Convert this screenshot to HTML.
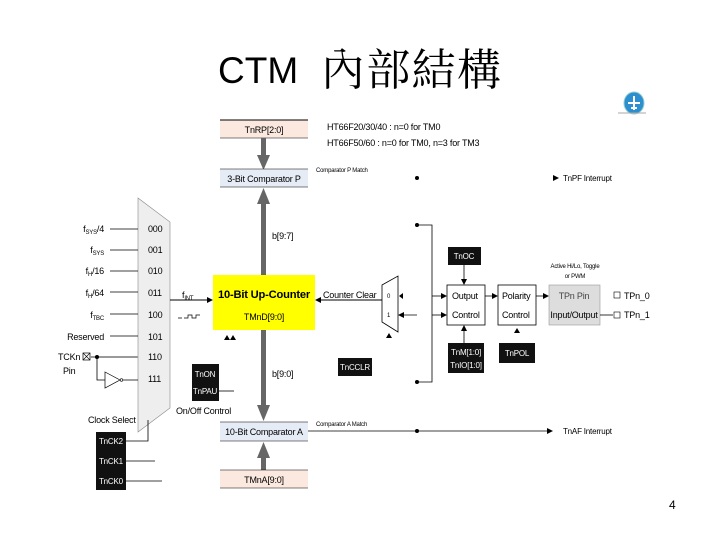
<!DOCTYPE html>
<html><head><meta charset="utf-8"><style>
body{margin:0;background:#fff;width:720px;height:540px;overflow:hidden}
svg{display:block}
text{font-family:"Liberation Sans",sans-serif;letter-spacing:-0.2px}
</style></head><body>
<svg width="720" height="540" viewBox="0 0 720 540">
<defs>
<marker id="a" markerWidth="6" markerHeight="6" refX="5" refY="3" orient="auto" markerUnits="userSpaceOnUse"><path d="M0,0L6,3L0,6z" fill="#000"/></marker>
</defs>
<text x="218" y="83" font-size="37" style="letter-spacing:0">CTM</text>
<text x="321" y="85" font-size="44" style="font-family:'Noto Serif CJK TC','Noto Serif CJK SC',serif;letter-spacing:0" textLength="180">內部結構</text>
<!-- logo -->
<ellipse cx="634" cy="103" rx="10" ry="11" fill="#2b8fd0" stroke="#9cc" stroke-width="1"/>
<path d="M634 96v14M628 103h12M631 108h6" stroke="#fff" stroke-width="2"/>
<line x1="618" y1="113" x2="646" y2="113" stroke="#aaa" stroke-width="1"/>

<!-- TnRP -->
<rect x="220" y="120" width="88" height="18" fill="#fbe9df"/>
<line x1="220" y1="120" x2="308" y2="120" stroke="#000"/><line x1="220" y1="138" x2="308" y2="138" stroke="#000" stroke-width=".5"/>
<text x="264" y="133" font-size="9" text-anchor="middle">TnRP[2:0]</text>
<text x="327" y="130" font-size="9">HT66F20/30/40 : n=0 for TM0</text>
<text x="327" y="146" font-size="9">HT66F50/60 : n=0 for TM0,  n=3 for TM3</text>
<rect x="261" y="138" width="5" height="20" fill="#666"/><path d="M257,155L270,155L263.5,170z" fill="#666"/>
<rect x="220" y="169" width="88" height="18" fill="#e6ecf6"/>
<line x1="220" y1="169" x2="308" y2="169" stroke="#000" stroke-width=".6"/><line x1="220" y1="187" x2="308" y2="187" stroke="#000" stroke-width=".6"/>
<text x="264" y="182" font-size="9" text-anchor="middle">3-Bit Comparator P</text>
<text x="316" y="172" font-size="6">Comparator P Match</text>
<circle cx="417" cy="178" r="2"/>
<path d="M553,175L559,178L553,181z"/><text x="563" y="181" font-size="8">TnPF Interrupt</text>
<rect x="261" y="201" width="5" height="75" fill="#666"/><path d="M257,204L270,204L263.5,188z" fill="#666"/>
<text x="272" y="239" font-size="9">b[9:7]</text>

<!-- mux -->
<path d="M138,198L170,222L170,408L138,432z" fill="#eee" stroke="#888" stroke-width=".6"/>
<g font-size="9">
<text x="148" y="232">000</text><text x="148" y="253">001</text><text x="148" y="274">010</text><text x="148" y="296">011</text>
<text x="148" y="318">100</text><text x="148" y="340">101</text><text x="148" y="360">110</text><text x="148" y="382">111</text>
<g text-anchor="end">
<text x="104" y="232">f<tspan font-size="6" dy="2">SYS</tspan><tspan dy="-2">/4</tspan></text>
<text x="104" y="253">f<tspan font-size="6" dy="2">SYS</tspan></text>
<text x="104" y="274">f<tspan font-size="6" dy="2">H</tspan><tspan dy="-2">/16</tspan></text>
<text x="104" y="296">f<tspan font-size="6" dy="2">H</tspan><tspan dy="-2">/64</tspan></text>
<text x="104" y="318">f<tspan font-size="6" dy="2">TBC</tspan></text>
<text x="104" y="340">Reserved</text>
</g>
<text x="58" y="360">TCKn</text><text x="63" y="374">Pin</text>
<text x="88" y="423">Clock Select</text>
</g>
<g stroke="#000" stroke-width=".8">
<line x1="110" y1="229" x2="138" y2="229"/><line x1="110" y1="250" x2="138" y2="250"/><line x1="110" y1="271" x2="138" y2="271"/>
<line x1="110" y1="292" x2="138" y2="292"/><line x1="110" y1="314" x2="138" y2="314"/><line x1="110" y1="336" x2="138" y2="336"/>
</g>
<rect x="83" y="353" width="7" height="7" fill="none" stroke="#000" stroke-width=".7"/><path d="M83,353l7,7M90,353l-7,7" stroke="#000" stroke-width=".6"/>
<line x1="90" y1="357" x2="138" y2="357" stroke="#999" stroke-width="2"/>
<circle cx="97" cy="357" r="2"/>
<path d="M97,357V380H105M122,380H138" stroke="#000" fill="none" stroke-width=".8"/>
<path d="M105,372L120,380L105,388z" fill="#fff" stroke="#000" stroke-width=".7"/><circle cx="121.5" cy="380" r="1.3" fill="#fff" stroke="#000" stroke-width=".6"/>

<!-- clock select boxes -->
<rect x="96" y="432" width="30" height="58" fill="#111"/>
<g fill="#fff" font-size="8"><text x="99" y="444">TnCK2</text><text x="99" y="464">TnCK1</text><text x="99" y="484">TnCK0</text></g>
<path d="M126,441H148V420" stroke="#000" fill="none" stroke-width=".8"/>
<line x1="126" y1="461" x2="155" y2="461" stroke="#000" stroke-width=".8"/>
<line x1="126" y1="481" x2="162" y2="481" stroke="#000" stroke-width=".8"/>

<!-- counter -->
<text x="182" y="298" font-size="9">f<tspan font-size="6" dy="2">INT</tspan></text>
<line x1="170" y1="300" x2="212" y2="300" stroke="#000" stroke-width=".9" marker-end="url(#a)"/>
<path d="M178,318h4M184,318h4v-3h4v3h4v-3h4" stroke="#000" fill="none" stroke-width=".7"/>
<rect x="213" y="275" width="102" height="55" fill="#ffff00"/>
<text x="264" y="298" font-size="11" font-weight="bold" text-anchor="middle" textLength="92" lengthAdjust="spacingAndGlyphs">10-Bit Up-Counter</text>
<text x="264" y="320" font-size="9" text-anchor="middle">TMnD[9:0]</text>
<path d="M224,340l3,-5l3,5zM230,340l3,-5l3,5z"/>
<line x1="382" y1="300" x2="316" y2="300" stroke="#000" stroke-width=".9" marker-end="url(#a)"/>
<text x="323" y="298" font-size="9">Counter Clear</text>
<path d="M382,285L398,276L398,332L382,322z" fill="#fff" stroke="#000" stroke-width=".8"/>
<text x="387" y="298" font-size="6">0</text><text x="387" y="317" font-size="6">1</text>
<path d="M403,293L399,296L403,299z"/>
<line x1="417" y1="315" x2="399" y2="315" stroke="#000" stroke-width=".8" marker-end="url(#a)"/>
<path d="M386,338l3,-5l3,5z"/>

<!-- right lines -->
<circle cx="417" cy="225" r="2"/><circle cx="417" cy="382" r="2"/><circle cx="417" cy="431" r="2"/>
<path d="M417,225H432V382H417" stroke="#000" fill="none" stroke-width=".8"/>
<line x1="432" y1="296" x2="446" y2="296" stroke="#000" stroke-width=".8" marker-end="url(#a)"/>
<line x1="432" y1="315" x2="446" y2="315" stroke="#000" stroke-width=".8" marker-end="url(#a)"/>
<rect x="448" y="247" width="33" height="18" fill="#111"/><text x="464" y="259" font-size="8" fill="#fff" text-anchor="middle">TnOC</text>
<line x1="464" y1="265" x2="464" y2="284" stroke="#000" stroke-width=".8" marker-end="url(#a)"/>
<rect x="447" y="285" width="38" height="40" fill="#fff" stroke="#000" stroke-width=".8"/>
<text x="452" y="299" font-size="9">Output</text><text x="452" y="318" font-size="9">Control</text>
<line x1="464" y1="343" x2="464" y2="326" stroke="#000" stroke-width=".8" marker-end="url(#a)"/>
<line x1="485" y1="296" x2="497" y2="296" stroke="#000" stroke-width=".8" marker-end="url(#a)"/>
<rect x="498" y="285" width="38" height="40" fill="#fff" stroke="#000" stroke-width=".8"/>
<text x="502" y="299" font-size="9">Polarity</text><text x="502" y="318" font-size="9">Control</text>
<path d="M514,333l3,-5l3,5z"/>
<line x1="536" y1="296" x2="548" y2="296" stroke="#000" stroke-width=".8" marker-end="url(#a)"/>
<rect x="549" y="285" width="51" height="40" fill="#ddd" stroke="#999" stroke-width=".6"/>
<text x="574" y="299" font-size="9" fill="#444" text-anchor="middle">TPn Pin</text><text x="574" y="318" font-size="9" text-anchor="middle">Input/Output</text>
<text x="575" y="268" font-size="6" text-anchor="middle">Active Hi/Lo, Toggle</text><text x="575" y="278" font-size="6" text-anchor="middle">or PWM</text>
<line x1="600" y1="315" x2="613" y2="315" stroke="#000" stroke-width=".8"/>
<g font-size="9"><rect x="614" y="292" width="6" height="6" fill="none" stroke="#000" stroke-width=".6"/><text x="624" y="299">TPn_0</text>
<rect x="614" y="312" width="6" height="6" fill="none" stroke="#000" stroke-width=".6"/><text x="624" y="318">TPn_1</text></g>
<rect x="448" y="343" width="36" height="30" fill="#111"/><text x="466" y="355" font-size="8" fill="#fff" text-anchor="middle">TnM[1:0]</text><text x="466" y="368" font-size="8" fill="#fff" text-anchor="middle">TnIO[1:0]</text>
<rect x="499" y="343" width="36" height="20" fill="#111"/><text x="517" y="356" font-size="8" fill="#fff" text-anchor="middle">TnPOL</text>
<rect x="338" y="358" width="34" height="18" fill="#111"/><text x="355" y="370" font-size="8" fill="#fff" text-anchor="middle">TnCCLR</text>

<!-- on/off -->
<rect x="192" y="364" width="27" height="37" fill="#111"/><text x="205" y="377" font-size="8" fill="#fff" text-anchor="middle">TnON</text><text x="205" y="394" font-size="8" fill="#fff" text-anchor="middle">TnPAU</text>
<line x1="219" y1="391" x2="234" y2="391" stroke="#000" stroke-width=".8"/>
<text x="176" y="414" font-size="9">On/Off Control</text>

<!-- lower -->
<text x="272" y="377" font-size="9">b[9:0]</text>
<rect x="261" y="330" width="5" height="77" fill="#666"/><path d="M257,405L270,405L263.5,421z" fill="#666"/>
<rect x="220" y="422" width="88" height="19" fill="#e6ecf6"/>
<line x1="220" y1="422" x2="308" y2="422" stroke="#000" stroke-width=".6"/><line x1="220" y1="441" x2="308" y2="441" stroke="#000" stroke-width=".6"/>
<text x="264" y="435" font-size="9" text-anchor="middle">10-Bit Comparator A</text>
<text x="316" y="426" font-size="6">Comparator A Match</text>
<line x1="308" y1="431" x2="552" y2="431" stroke="#000" stroke-width=".8" marker-end="url(#a)"/>
<text x="563" y="434" font-size="8">TnAF Interrupt</text>
<rect x="261" y="455" width="5" height="15" fill="#666"/><path d="M257,458L270,458L263.5,442z" fill="#666"/>
<rect x="220" y="470" width="88" height="18" fill="#fbe9df"/>
<line x1="220" y1="470" x2="308" y2="470" stroke="#000" stroke-width=".6"/><line x1="220" y1="488" x2="308" y2="488" stroke="#000" stroke-width=".6"/>
<text x="264" y="483" font-size="9" text-anchor="middle">TMnA[9:0]</text>

<text x="669" y="509" font-size="12">4</text>
</svg>
</body></html>
